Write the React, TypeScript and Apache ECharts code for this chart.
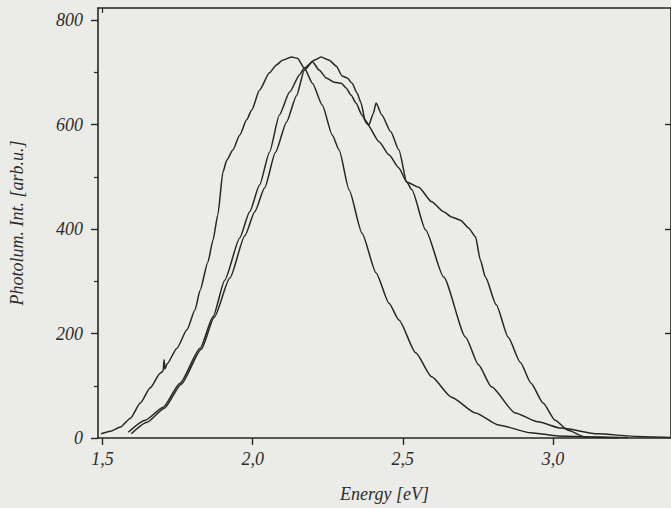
import { useEffect, useRef } from "react";
import * as echarts from "echarts";

// Curve A (lowest-energy emission band)
const energyA = [1.495, 1.526, 1.56, 1.593, 1.626, 1.659, 1.692, 1.702, 1.705, 1.708, 1.715, 1.748, 1.781, 1.808, 1.825, 1.851, 1.868, 1.884, 1.901, 1.914, 1.934, 1.957, 1.98, 1.997, 2.023, 2.056, 2.079, 2.099, 2.129, 2.149, 2.172, 2.199, 2.232, 2.265, 2.288, 2.321, 2.364, 2.411, 2.454, 2.487, 2.543, 2.596, 2.662, 2.742, 2.818, 2.927, 3.017, 3.149, 3.25];
const intensityA = [8, 13, 21, 38, 67, 96, 124, 128, 150, 132, 142, 172, 207, 245, 283, 337, 379, 427, 509, 532, 551, 580, 609, 628, 666, 699, 714, 723, 729, 727, 708, 679, 637, 580, 551, 475, 392, 316, 258, 226, 163, 117, 78, 48, 25, 10, 4, 2, 1];

// Curve B (spike near 2.41 eV, long tail)
const energyB = [1.586, 1.642, 1.702, 1.758, 1.825, 1.868, 1.907, 1.957, 1.99, 2.023, 2.056, 2.089, 2.123, 2.156, 2.172, 2.205, 2.228, 2.255, 2.278, 2.298, 2.315, 2.331, 2.348, 2.361, 2.374, 2.387, 2.401, 2.411, 2.43, 2.46, 2.487, 2.513, 2.53, 2.576, 2.636, 2.709, 2.752, 2.795, 2.874, 2.95, 3.026, 3.149, 3.281, 3.39];
const intensityB = [11, 34, 59, 105, 172, 232, 302, 383, 433, 484, 547, 618, 662, 695, 708, 723, 729, 723, 712, 693, 689, 679, 660, 641, 609, 599, 620, 641, 618, 586, 551, 490, 475, 398, 308, 193, 140, 98, 48, 31, 19, 8, 3, 1];

// Curve C (shoulder near 2.7 eV, steep edge)
const energyC = [1.596, 1.648, 1.706, 1.762, 1.829, 1.872, 1.924, 1.974, 2.007, 2.04, 2.076, 2.113, 2.146, 2.172, 2.199, 2.222, 2.245, 2.272, 2.295, 2.311, 2.328, 2.344, 2.364, 2.381, 2.421, 2.454, 2.487, 2.513, 2.553, 2.596, 2.636, 2.662, 2.692, 2.719, 2.742, 2.758, 2.775, 2.811, 2.851, 2.891, 2.927, 2.967, 3.007, 3.05, 3.106, 3.215];
const intensityC = [8, 30, 57, 103, 170, 231, 306, 387, 433, 479, 547, 605, 655, 704, 720, 704, 689, 681, 679, 670, 656, 641, 618, 601, 567, 542, 517, 490, 480, 452, 433, 423, 417, 402, 385, 341, 308, 255, 193, 145, 105, 67, 34, 15, 2, 0];

const xTickValues = [1.5, 2.0, 2.5, 3.0];
const yTickValues = [0, 200, 400, 600, 800];
const yMinorTickValues = [100, 300, 500, 700];
const yRightTickValues = [200, 400, 600];
const xAxisTitle = "Energy [eV]";
const yAxisTitle = "Photolum. Int. [arb.u.]";

const X_MIN = 1.485;
const X_MAX = 3.393;
const Y_MIN = 0;
const Y_MAX = 823;

const zip = (xs: number[], ys: number[]) => xs.map((x, i) => [x, ys[i]]);

export default function App() {
  const ref = useRef<HTMLDivElement>(null);
  useEffect(() => {
    if (!ref.current) return;
    const chart = echarts.init(ref.current, null, { renderer: "svg" });
    const ink = "#262626";
    const font = {
      fontFamily: "Liberation Serif",
      fontStyle: "italic" as const,
      fontSize: 18,
      color: "#2b2b2b",
    };
    const lineSeries = (name: string, data: number[][]) => ({
      name,
      type: "line",
      data,
      showSymbol: false,
      symbol: "none",
      smooth: 0.2,
      smoothMonotone: "x",
      lineStyle: { color: ink, width: 1.5 },
      silent: true,
    });
    chart.setOption({
      animation: false,
      backgroundColor: "#ebebe8",
      grid: { left: 97, top: 8, width: 578, height: 430, containLabel: false },
      xAxis: [
        {
          type: "value",
          min: X_MIN,
          max: X_MAX,
          position: "bottom",
          name: xAxisTitle,
          nameLocation: "middle",
          nameGap: 47,
          nameTextStyle: { ...font },
          axisLine: { show: true, onZero: false, lineStyle: { color: ink, width: 1.6 } },
          axisTick: { show: true, inside: false, length: 7, customValues: xTickValues, lineStyle: { color: ink, width: 1.4 } },
          axisLabel: {
            ...font,
            margin: 12,
            customValues: xTickValues,
            formatter: (v: number) => v.toFixed(1).replace(".", ","),
          },
          splitLine: { show: false },
        },
        {
          type: "value",
          min: X_MIN,
          max: X_MAX,
          position: "top",
          axisLine: { show: true, onZero: false, lineStyle: { color: ink, width: 1.6 } },
          axisTick: { show: true, inside: true, length: 5, customValues: [xTickValues[0]], lineStyle: { color: ink, width: 1.2 } },
          axisLabel: { show: false },
          splitLine: { show: false },
        },
      ],
      yAxis: [
        {
          type: "value",
          min: Y_MIN,
          max: Y_MAX,
          position: "left",
          name: yAxisTitle,
          nameLocation: "middle",
          nameGap: 72,
          nameRotate: 90,
          nameTextStyle: { ...font },
          axisLine: { show: true, onZero: false, lineStyle: { color: ink, width: 1.6 } },
          axisTick: { show: true, inside: false, length: 7, customValues: yTickValues, lineStyle: { color: ink, width: 1.4 } },
          axisLabel: { ...font, margin: 15, customValues: yTickValues },
          splitLine: { show: false },
        },
        {
          type: "value",
          min: Y_MIN,
          max: Y_MAX,
          position: "left",
          axisLine: { show: false, onZero: false },
          axisTick: { show: true, inside: false, length: 4, customValues: yMinorTickValues, lineStyle: { color: ink, width: 1.2 } },
          axisLabel: { show: false },
          splitLine: { show: false },
        },
        {
          type: "value",
          min: Y_MIN,
          max: Y_MAX,
          position: "right",
          axisLine: { show: true, onZero: false, lineStyle: { color: ink, width: 1.6 } },
          axisTick: { show: true, inside: true, length: 6, customValues: yRightTickValues, lineStyle: { color: ink, width: 1.4 } },
          axisLabel: { show: false },
          splitLine: { show: false },
        },
      ],
      series: [
        lineSeries("A", zip(energyA, intensityA)),
        lineSeries("B", zip(energyB, intensityB)),
        lineSeries("C", zip(energyC, intensityC)),
      ],
    });
    return () => chart.dispose();
  }, []);
  return (
    <div
      ref={ref}
      style={{ position: "absolute", left: 0, top: 0, width: 671, height: 508, background: "#ebebe8" }}
    />
  );
}
